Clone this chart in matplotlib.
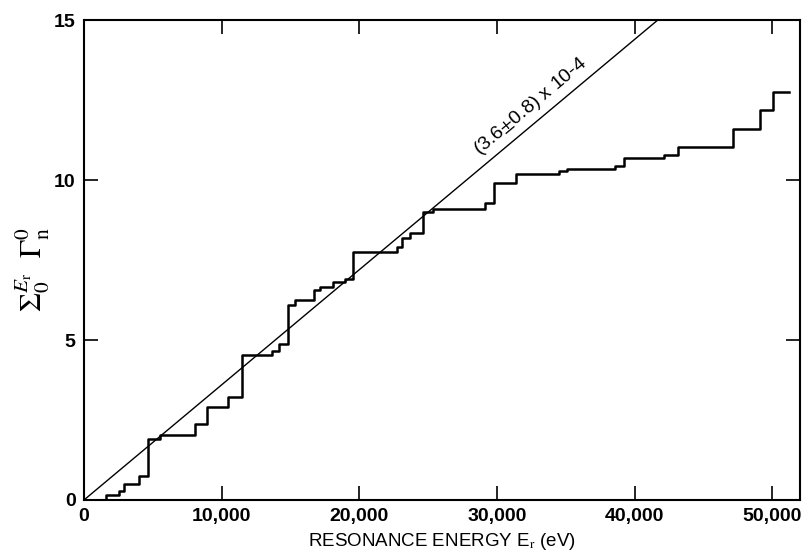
import matplotlib.pyplot as plt
import numpy as np

plt.rcParams['font.family'] = ['Liberation Sans', 'DejaVu Sans']
plt.rcParams['mathtext.fontset'] = 'stix'

# resonance energies (eV) where the cumulative sum jumps, and the sum after each jump
energy = [1600, 2560, 2930, 4020, 4630, 5520, 8060, 8910, 10440, 11500,
          13630, 14160, 14840, 15320, 16720, 17140, 18100, 18950, 19560,
          22710, 23070, 23670, 24600, 25350, 29120, 29810, 31370, 34520,
          35050, 38560, 39240, 42140, 43120, 47150, 49090, 50060]
sumG = [0.16, 0.28, 0.50, 0.75, 1.90, 2.02, 2.37, 2.90, 3.23, 4.53,
        4.67, 4.87, 6.09, 6.25, 6.56, 6.67, 6.81, 6.90, 7.76,
        7.92, 8.18, 8.33, 9.01, 9.08, 9.29, 9.90, 10.19, 10.28,
        10.36, 10.44, 10.70, 10.79, 11.03, 11.59, 12.19, 12.74]
e_end = 51220

slope = 3.6e-4   # fitted strength function
xticks = [0, 10000, 20000, 30000, 40000, 50000]
xlabels = ['0', '10,000', '20,000', '30,000', '40,000', '50,000']
yticks = [0, 5, 10, 15]

fig = plt.figure(figsize=(8.04, 5.58), dpi=100)
ax = fig.add_axes([0.1045, 0.104, 0.8905, 0.86])

xs = [0] + energy + [e_end]
ys = [0] + sumG + [sumG[-1]]
ax.step(xs, ys, where='post', color='black', lw=1.8)

ex = np.array([0, 15 / slope])
ax.plot(ex, slope * ex, color='black', lw=1.0)

ax.text(32900, slope * 32900 + 0.2, r'(3.6$\pm$0.8) x 10-4', rotation=39.9,
        rotation_mode='anchor', ha='center', va='bottom', fontsize=14)

ax.set_xlim(0, 52000)
ax.set_ylim(0, 15)
ax.set_xticks(xticks)
ax.set_xticklabels(xlabels)
ax.set_yticks(yticks)
ax.tick_params(direction='in', length=10, width=1.2, top=True, right=True,
               labelsize=14, pad=6)
for lab in ax.get_xticklabels() + ax.get_yticklabels():
    lab.set_fontweight('bold')
for s in ax.spines.values():
    s.set_linewidth(1.5)

ax.set_xlabel(r'RESONANCE ENERGY E$_\mathrm{r}$ (eV)', fontsize=13.5, labelpad=4)
ax.set_ylabel(r'$\Sigma_0^{E_\mathrm{r}}\ \ \Gamma_\mathrm{n}^0$', fontsize=22)
ax.yaxis.set_label_coords(-0.045, 0.48)

plt.savefig('out.png', dpi=100)
